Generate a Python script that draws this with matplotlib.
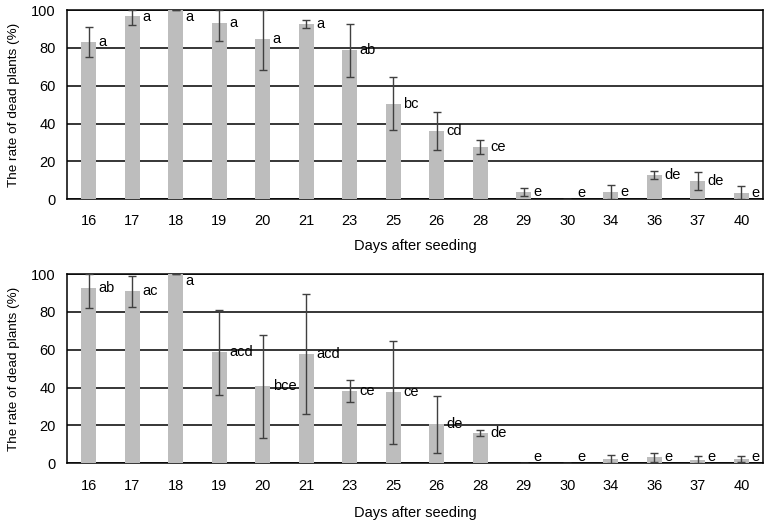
import numpy as np
import matplotlib
matplotlib.use('Agg')
import matplotlib.pyplot as plt

plt.rcParams['font.family'] = ['Liberation Sans', 'DejaVu Sans']

days = ['16', '17', '18', '19', '20', '21', '23', '25', '26', '28', '29', '30', '34', '36', '37', '40']

# upper panel
top_mean = [83, 96.7, 100, 93.3, 84.7, 92.6, 78.7, 50.5, 35.9, 27.6, 3.7, 0, 3.7, 12.7, 9.7, 3.2]
top_err = [8, 4.7, 0, 9.5, 16.4, 2.2, 14, 14, 10, 3.8, 2, 0, 4, 2.2, 4.8, 3.7]
top_letters = ['a', 'a', 'a', 'a', 'a', 'a', 'ab', 'bc', 'cd', 'ce', 'e', 'e', 'e', 'de', 'de', 'e']

# lower panel
bot_mean = [92.6, 90.8, 100, 58.6, 40.6, 57.7, 38.3, 37.4, 20.6, 16, 0, 0, 2.1, 3.2, 1.8, 2.1]
bot_err = [10.8, 8, 0, 22.4, 27, 31.7, 5.7, 27, 15, 1.8, 0, 0, 2, 2.4, 1.8, 1.5]
bot_letters = ['ab', 'ac', 'a', 'acd', 'bce', 'acd', 'ce', 'ce', 'de', 'de', 'e', 'e', 'e', 'e', 'e', 'e']

fig = plt.figure(figsize=(7.7, 5.27), dpi=100)


def panel(rect, mean, err, letters):
    ax = fig.add_axes(rect)
    x = np.arange(len(days))
    mean = np.array(mean)
    err = np.array(err)
    lo = np.minimum(err, mean)
    hi = np.minimum(err, 100 - mean)
    ax.bar(x, mean, width=0.34, color='#bdbdbd', zorder=3)
    ax.errorbar(x, mean, yerr=[lo, hi], fmt='none', ecolor='#404040',
                elinewidth=1, capsize=3, capthick=1, zorder=4)
    for i in range(len(days)):
        ax.text(x[i] + 0.23, np.clip(mean[i], 3.5, 96.5), letters[i],
                ha='left', va='center', fontsize=10.5, zorder=5)
    ax.set_xlim(-0.5, len(days) - 0.5)
    ax.set_ylim(0, 100)
    ax.set_yticks([0, 20, 40, 60, 80, 100])
    ax.set_xticks(x)
    ax.set_xticklabels(days)
    ax.tick_params(axis='both', length=0, labelsize=10.5)
    ax.tick_params(axis='x', pad=11)
    ax.tick_params(axis='y', pad=8)
    ax.yaxis.grid(True, color='black', linewidth=1.1, zorder=0)
    for s in ax.spines.values():
        s.set_color('black')
        s.set_linewidth(1.1)
    ax.set_ylabel('The rate of dead plants (%)', fontsize=9.7)
    ax.yaxis.set_label_coords(-0.068, 0.5)
    return ax


panel([0.087, 0.622, 0.904, 0.359], top_mean, top_err, top_letters)
panel([0.087, 0.121, 0.904, 0.359], bot_mean, bot_err, bot_letters)

fig.text(0.539, 0.533, 'Days after seeding', ha='center', va='center', fontsize=10.5)
fig.text(0.539, 0.027, 'Days after seeding', ha='center', va='center', fontsize=10.5)

fig.savefig('out.png', dpi=100)
